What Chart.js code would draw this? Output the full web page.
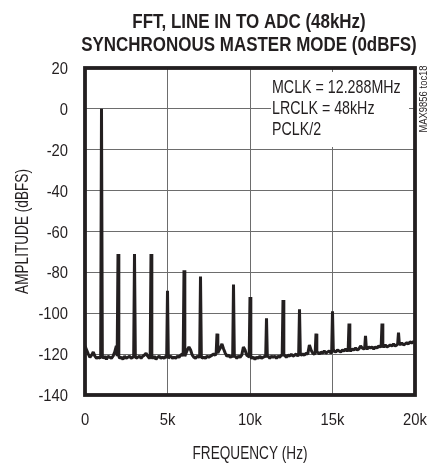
<!DOCTYPE html>
<html>
<head>
<meta charset="utf-8">
<script src="https://cdn.jsdelivr.net/npm/chart.js@4.4.1/dist/chart.umd.min.js"></script>
<style>
  body { margin: 0; background: #fff; }
  canvas { display: block; }
</style>
</head>
<body>
<canvas id="fft-chart" width="438" height="465"></canvas>
<script>
const FONT = "'Liberation Sans', Arial, sans-serif";
const INK = "#231f20";

// noise floor, one value per 100 Hz bin from 0 to 20 kHz (dBFS)
const floorStepHz = 100;
const floorLevels = [
  -116, -118, -120, -121.5, -120.5, -119, -121, -122, -121.5, -122,
  -121, -122, -121, -122.5, -121, -121.5, -122, -121, -119, -116,
  -121, -122, -121.5, -122.5, -121, -122, -121.5, -121, -122, -121.5,
  -121, -122, -121.5, -121, -122, -121, -120.5, -119.5, -121, -122,
  -121.5, -122, -121, -122.5, -121.5, -121, -122, -121.5, -122, -121,
  -122, -121.5, -121, -122, -121.5, -122, -121, -121.5, -120.5, -120,
  -121, -120, -118, -116.5, -118, -120.5, -121.5, -122, -121, -121.5,
  -121, -122, -121.5, -122, -121, -121.5, -121, -120.5, -120, -120.5,
  -119.5, -118.5, -117, -115, -117.5, -119.5, -121, -120.5, -121.5, -121,
  -121.5, -121, -122, -121, -121.5, -120.5, -116.5, -118, -120.5, -121,
  -121.5, -122, -121.5, -122.5, -121.5, -122, -121, -122, -121.5, -121,
  -121.5, -121, -122, -121, -121.5, -121, -122, -121, -121.5, -120.5,
  -121, -120.5, -121.5, -120.5, -121, -120, -121, -120.5, -120, -121,
  -120, -120.5, -120, -120.5, -119.5, -120, -115.5, -118, -119.5, -120,
  -119.5, -119, -120, -119, -119.5, -118.5, -119.5, -119, -118.5, -119.5,
  -119, -118.5, -119, -118, -118.5, -119, -118, -118.5, -117.5, -118.5,
  -118, -118.5, -117.5, -118, -117, -118, -117.5, -116, -117, -117.5,
  -117, -117.5, -116.5, -117, -116.5, -117.5, -116.5, -117, -116, -116.5,
  -116, -116.5, -115.5, -116.5, -116, -115.5, -116, -115, -116, -115.5,
  -115, -115.5, -114.5, -115.5, -115, -114.5, -115, -114, -114.5, -114,
  -114
];

// fundamental and harmonics
const toneFreqs = [
  1000, 2000, 3000, 4000, 5000, 6000, 7000, 8000, 9000, 10000,
  11000, 12000, 13000, 14000, 15000, 16000, 17000, 18000, 19000
];
const toneLevels = [
  0, -71, -71, -71, -89, -79, -82, -110, -86, -92,
  -102.5, -93.5, -98, -110, -99, -105, -111, -105, -109.5
];

const xTickLabels = ["0", "5k", "10k", "15k", "20k"];
const notes = ["MCLK = 12.288MHz", "LRCLK = 48kHz", "PCLK/2"];

// merge floor and tones into one trace; each tone is a narrow spike
const trace = [];
floorLevels.forEach((lvl, i) => {
  const f = i * floorStepHz;
  const t = toneFreqs.indexOf(f);
  if (t < 0) {
    trace.push({ x: f, y: lvl });
  } else {
    trace.push({ x: f - 50, y: lvl });
    trace.push({ x: f, y: toneLevels[t] });
    trace.push({ x: f + 50, y: lvl });
  }
});

// narrow-font text: squeeze horizontally around the anchor
function text(ctx, s, x, y, font, sx, align, rot) {
  ctx.save();
  ctx.translate(x, y);
  if (rot) ctx.rotate(rot);
  ctx.scale(sx, 1);
  ctx.font = font;
  ctx.textAlign = align;
  ctx.textBaseline = "alphabetic";
  ctx.fillStyle = INK;
  ctx.fillText(s, 0, 0);
  ctx.restore();
}

const decor = {
  id: "decor",
  beforeDraw(chart) {
    const { ctx } = chart;
    ctx.save();
    ctx.fillStyle = "#fff";
    ctx.fillRect(0, 0, chart.width, chart.height);
    ctx.restore();
  },
  afterDatasetsDraw(chart) {
    const { ctx, chartArea: a, scales } = chart;

    // settings box
    ctx.save();
    ctx.fillStyle = "#fff";
    ctx.fillRect(271, 72, 138, 75);
    ctx.restore();
    notes.forEach((s, i) => text(ctx, s, 272, 93 + i * 21, "18.5px " + FONT, 0.77, "left"));

    // frame
    ctx.save();
    ctx.strokeStyle = INK;
    ctx.lineWidth = 3.8;
    ctx.strokeRect(a.left, a.top, a.right - a.left, a.bottom - a.top);
    ctx.restore();

    // tick labels
    const tickFont = "17.2px " + FONT;
    scales.x.ticks.forEach((t, i) => {
      text(ctx, xTickLabels[i], scales.x.getPixelForValue(t.value), 425, tickFont, 0.86, "center");
    });
    scales.y.ticks.forEach((t) => {
      text(ctx, String(t.value), 68, scales.y.getPixelForValue(t.value) + 6, tickFont, 0.86, "right");
    });

    // axis titles
    const axisFont = "17.7px " + FONT;
    text(ctx, "FREQUENCY (Hz)", (a.left + a.right) / 2, 459, axisFont, 0.77, "center");
    text(ctx, "AMPLITUDE (dBFS)", 28, (a.top + a.bottom) / 2, axisFont, 0.77, "center", -Math.PI / 2);

    // title
    text(ctx, "FFT, LINE IN TO ADC (48kHz)", 249, 28, "bold 19.5px " + FONT, 0.87, "center");
    text(ctx, "SYNCHRONOUS MASTER MODE (0dBFS)", 249, 51, "bold 19.5px " + FONT, 0.87, "center");

    // figure tag
    text(ctx, "MAX9856 toc18", 427, 99, "10.5px " + FONT, 0.9, "center", -Math.PI / 2);
  }
};

new Chart(document.getElementById("fft-chart").getContext("2d"), {
  type: "line",
  data: {
    datasets: [
      {
        data: trace,
        borderColor: INK,
        borderWidth: 3,
        borderJoinStyle: "bevel",
        pointRadius: 0,
        tension: 0,
      },
    ],
  },
  options: {
    responsive: false,
    animation: false,
    layout: { padding: { top: 68, right: 23, left: 0, bottom: 0 } },
    plugins: { legend: { display: false }, tooltip: { enabled: false } },
    scales: {
      x: {
        type: "linear",
        min: 0,
        max: 20000,
        afterFit: (s) => { s.height = 70; },
        grid: { color: "#6d6d6d", lineWidth: 1, drawTicks: false },
        border: { display: false },
        ticks: { stepSize: 5000, display: false },
      },
      y: {
        min: -140,
        max: 20,
        afterFit: (s) => { s.width = 85; },
        grid: { color: "#6d6d6d", lineWidth: 1, drawTicks: false },
        border: { display: false },
        ticks: { stepSize: 20, display: false },
      },
    },
  },
  plugins: [decor],
});
</script>
</body>
</html>
